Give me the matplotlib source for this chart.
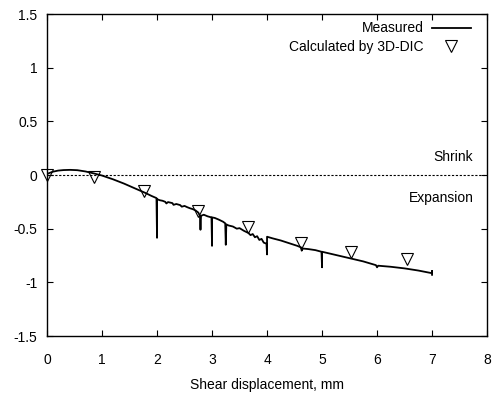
import matplotlib
matplotlib.use("Agg")
import matplotlib.pyplot as plt

plt.rcParams["font.family"] = ["Liberation Sans", "DejaVu Sans"]
plt.rcParams["font.size"] = 10

# measured curve, spikes are repeated x values
measured = [
    (0.00, 0.010), (0.10, 0.030), (0.20, 0.041), (0.30, 0.046), (0.42, 0.048),
    (0.55, 0.045), (0.70, 0.033), (0.85, 0.015), (1.00, -0.005), (1.20, -0.040),
    (1.40, -0.080), (1.60, -0.125), (1.78, -0.165), (1.90, -0.195), (1.99, -0.215),
    (2.00, -0.585), (2.00, -0.225), (2.05, -0.235), (2.10, -0.240), (2.15, -0.250),
    (2.17, -0.265), (2.20, -0.252), (2.28, -0.262), (2.30, -0.278), (2.35, -0.270),
    (2.42, -0.280), (2.45, -0.295), (2.50, -0.288), (2.55, -0.300), (2.60, -0.310),
    (2.65, -0.318), (2.70, -0.330), (2.75, -0.350), (2.78, -0.380), (2.79, -0.510),
    (2.80, -0.380), (2.85, -0.370), (2.92, -0.385), (2.99, -0.395), (3.00, -0.660),
    (3.00, -0.395), (3.05, -0.400), (3.12, -0.415), (3.20, -0.435), (3.24, -0.450),
    (3.25, -0.650), (3.26, -0.460), (3.30, -0.470), (3.38, -0.480), (3.45, -0.500),
    (3.50, -0.495), (3.58, -0.520), (3.66, -0.540), (3.70, -0.560), (3.74, -0.550),
    (3.78, -0.580), (3.82, -0.570), (3.86, -0.605), (3.90, -0.595), (3.94, -0.630),
    (3.99, -0.640), (4.00, -0.740), (4.00, -0.575), (4.10, -0.590), (4.25, -0.610),
    (4.40, -0.635), (4.55, -0.660), (4.62, -0.675), (4.63, -0.705), (4.65, -0.685),
    (4.75, -0.690), (4.88, -0.700), (4.99, -0.715), (5.00, -0.860), (5.00, -0.715),
    (5.25, -0.745), (5.50, -0.775), (5.75, -0.805), (5.98, -0.840), (6.00, -0.860),
    (6.02, -0.845), (6.25, -0.855), (6.50, -0.870), (6.75, -0.890), (7.00, -0.915),
    (7.00, -0.895), (7.00, -0.930),
]
meas_x = [p[0] for p in measured]
meas_y = [p[1] for p in measured]

dic_x = [0.0, 0.85, 1.77, 2.75, 3.66, 4.62, 5.53, 6.55]
dic_y = [0.0, -0.02, -0.15, -0.335, -0.48, -0.63, -0.72, -0.78]

fig = plt.figure(figsize=(4.97, 3.96), dpi=100)
ax = fig.add_axes([0.0946, 0.1515, 0.8854, 0.8131])

ax.axhline(0, color="black", lw=0.8, ls=(0, (2, 1.5)))
ax.plot(meas_x, meas_y, color="black", lw=1.3, label="Measured")
ax.plot(dic_x, dic_y, ls="none", marker="v", ms=9, mfc="none", mec="black",
        mew=0.8, clip_on=False, label="Calculated by 3D-DIC")

ax.text(7.75, 0.17, "Shrink", ha="right", va="center")
ax.text(7.75, -0.21, "Expansion", ha="right", va="center")

ax.set_xlim(0, 8)
ax.set_ylim(-1.5, 1.5)
ax.set_xticks(range(0, 9))
ax.set_yticks([-1.5, -1, -0.5, 0, 0.5, 1, 1.5])
ax.set_yticklabels(["-1.5", "-1", "-0.5", "0", "0.5", "1", "1.5"])
ax.tick_params(direction="in", top=True, right=True, length=4, width=0.8)
ax.tick_params(axis="x", pad=12)
ax.tick_params(axis="y", pad=7)
for s in ax.spines.values():
    s.set_linewidth(1.0)
ax.set_xlabel("Shear displacement, mm", labelpad=8)

ax.legend(loc="upper right", frameon=False, markerfirst=False,
          handlelength=2.8, handletextpad=0.6, labelspacing=0.3,
          borderaxespad=0.3, bbox_to_anchor=(0.985, 1.007))

fig.savefig("out.png", dpi=100)
